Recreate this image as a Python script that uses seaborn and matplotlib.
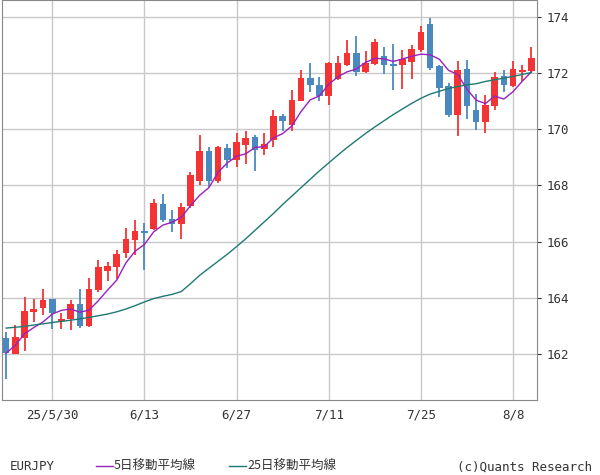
import matplotlib
matplotlib.use("Agg")
import matplotlib.pyplot as plt
import numpy as np
import pandas as pd
import seaborn as sns

# ── Data (EURJPY daily) ───────────────────────────────────────────────────────
opens = [162.57, 162.00, 162.55, 163.51, 163.65, 163.96, 163.16, 163.24, 163.79, 162.98,
         164.26, 164.97, 165.10, 165.58, 166.06, 166.38, 166.46, 167.35, 166.81, 166.61,
         167.25, 168.17, 169.23, 168.14, 169.33, 168.89, 169.44, 169.73, 169.30, 169.60,
         170.48, 170.16, 171.02, 171.84, 171.58, 171.19, 171.78, 172.29, 172.73, 172.05,
         172.33, 172.61, 172.32, 172.29, 172.41, 172.83, 173.75, 172.26, 171.54, 170.51,
         172.14, 170.69, 170.24, 170.83, 171.90, 171.54, 172.02, 172.08]
closes = [162.03, 162.59, 163.54, 163.60, 163.93, 163.44, 163.25, 163.79, 163.01, 164.32,
          165.10, 165.14, 165.57, 166.10, 166.38, 166.29, 167.38, 166.78, 166.61, 167.24,
          168.38, 169.23, 168.14, 169.35, 168.91, 169.55, 169.68, 169.27, 169.48, 170.48,
          170.30, 171.05, 171.84, 171.56, 171.19, 172.37, 172.37, 172.73, 172.05, 172.37,
          173.09, 172.29, 172.26, 172.49, 172.85, 173.47, 172.17, 171.48, 170.51, 172.11,
          170.83, 170.24, 170.87, 171.85, 171.58, 172.14, 172.11, 172.55]
highs = [162.78, 163.04, 164.01, 163.96, 164.32, 163.96, 163.47, 163.93, 164.32, 164.71,
         165.35, 165.29, 165.71, 166.49, 166.78, 166.67, 167.52, 167.70, 167.13, 167.38,
         168.49, 169.80, 169.35, 169.40, 169.48, 169.88, 169.95, 169.78, 169.87, 170.69,
         170.55, 171.40, 172.11, 172.35, 171.85, 172.40, 172.59, 173.18, 173.32, 172.77,
         173.20, 172.94, 173.04, 172.83, 173.00, 173.68, 173.95, 172.30, 171.66, 172.43,
         172.47, 171.26, 171.22, 172.05, 172.11, 172.44, 172.29, 172.92]
lows = [161.12, 162.00, 162.12, 163.12, 163.39, 162.87, 162.87, 162.84, 162.94, 162.95,
        164.20, 164.58, 164.68, 165.43, 165.53, 165.00, 166.40, 166.70, 166.35, 166.10,
        167.20, 168.00, 167.96, 168.10, 168.62, 168.67, 168.77, 168.53, 169.09, 169.38,
        169.92, 169.95, 171.00, 171.32, 170.99, 170.87, 171.75, 172.25, 171.90, 172.00,
        172.30, 171.97, 171.40, 171.43, 171.79, 172.75, 172.10, 171.13, 170.45, 169.77,
        170.36, 169.98, 169.88, 170.67, 171.34, 171.50, 171.70, 172.05]
ma25 = [162.92, 162.95, 162.98, 163.03, 163.07, 163.12, 163.16, 163.20, 163.25, 163.30,
        163.36, 163.42, 163.50, 163.60, 163.72, 163.85, 163.97, 164.05, 164.12, 164.22,
        164.50, 164.80, 165.05, 165.30, 165.55, 165.82, 166.10, 166.40, 166.70, 167.00,
        167.32, 167.62, 167.92, 168.22, 168.52, 168.80, 169.08, 169.35, 169.60, 169.85,
        170.08, 170.30, 170.52, 170.72, 170.92, 171.10, 171.25, 171.35, 171.45, 171.52,
        171.58, 171.62, 171.70, 171.76, 171.82, 171.88, 171.95, 172.02]
tick_pos = [5, 15, 25, 35, 45, 55]
tick_labels = ["25/5/30", "6/13", "6/27", "7/11", "7/25", "8/8"]
y_ticks = [162, 164, 166, 168, 170, 172, 174]

UP, DOWN = "#f43434", "#4a89bf"
MA5_C, MA25_C = "#9b1fbd", "#1e7a70"

df = pd.DataFrame({"open": opens, "close": closes, "high": highs, "low": lows, "ma25": ma25})
df["idx"] = np.arange(len(df))
df["ma5"] = df["close"].rolling(5, min_periods=1).mean()
colors = [UP if c >= o else DOWN for o, c in zip(df["open"], df["close"])]

fig = plt.figure(figsize=(6, 4.75), dpi=100)
ax = fig.add_axes([2 / 600, 75 / 475, 535 / 600, 400 / 475])

ax.vlines(df["idx"], df["low"], df["high"], colors=colors, linewidth=1.3, zorder=2)
body_lo = np.minimum(df["open"], df["close"])
body_h = np.maximum(np.abs(df["close"] - df["open"]), 0.05)
ax.bar(df["idx"], body_h, bottom=body_lo, width=0.72, color=colors, zorder=3)

sns.lineplot(data=df, x="idx", y="ma5", ax=ax, color=MA5_C, linewidth=1, zorder=4)
sns.lineplot(data=df, x="idx", y="ma25", ax=ax, color=MA25_C, linewidth=1, zorder=4)

ax.set_xlim(-0.45, 57.6)
ax.set_ylim(160.36, 174.6)
ax.set_xticks(tick_pos)
ax.set_xticklabels(tick_labels, family="DejaVu Sans Mono", fontsize=9, color="#333333")
ax.set_yticks(y_ticks)
ax.yaxis.tick_right()
ax.tick_params(axis="y", labelsize=9, colors="#333333", length=3)
ax.tick_params(axis="x", length=0, pad=6)
for lab in ax.get_yticklabels():
    lab.set_family("DejaVu Sans Mono")
ax.grid(True, color="#c8c8c8", linewidth=1)
ax.set_axisbelow(True)
ax.set_xlabel("")
ax.set_ylabel("")
for s in ax.spines.values():
    s.set_color("#888888")

fig.text(10 / 600, 1 - 466 / 475, "EURJPY", fontsize=9, family="DejaVu Sans Mono",
         color="#333333", va="center")
fig.add_artist(plt.Line2D([96 / 600, 113 / 600], [1 - 466 / 475] * 2, color=MA5_C, lw=1))
fig.text(114 / 600, 1 - 466 / 475, "5日移動平均線", fontsize=9, family="Noto Sans CJK JP",
         color="#333333", va="center")
fig.add_artist(plt.Line2D([229 / 600, 246 / 600], [1 - 466 / 475] * 2, color=MA25_C, lw=1))
fig.text(247 / 600, 1 - 466 / 475, "25日移動平均線", fontsize=9, family="Noto Sans CJK JP",
         color="#333333", va="center")
fig.text(592 / 600, 1 - 467 / 475, "(c)Quants Research", fontsize=9,
         family="DejaVu Sans Mono", color="#333333", va="center", ha="right")

fig.savefig("out.png", dpi=100)
